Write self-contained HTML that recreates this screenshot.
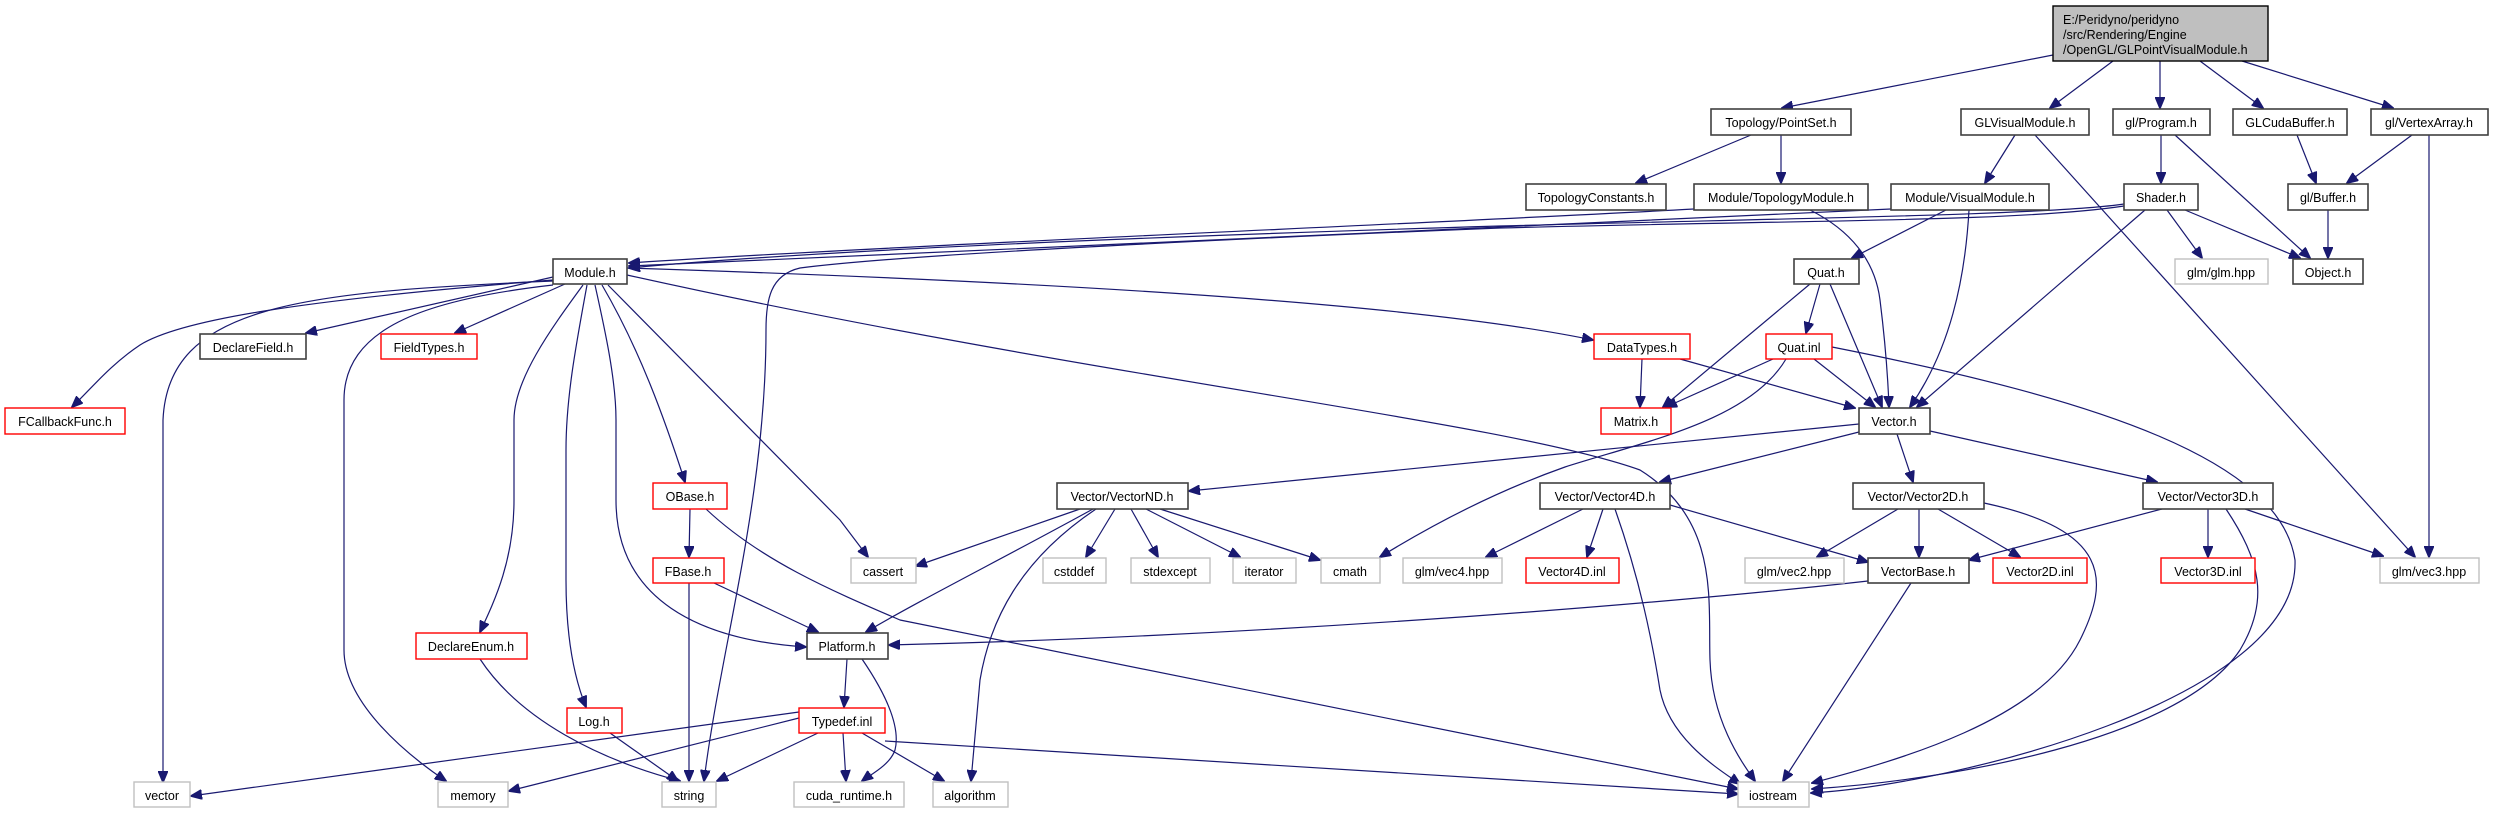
<!DOCTYPE html>
<html><head><meta charset="utf-8"><style>
html,body{margin:0;padding:0;background:#fff}
svg{display:block}
text{font-family:"Liberation Sans",Arial,sans-serif;font-size:12.5px;fill:#000;text-anchor:middle}
.b{fill:#fff;stroke:#404040;stroke-width:1.6}
.r{fill:#fff;stroke:#ff0000;stroke-width:1.4}
.g{fill:#fff;stroke:#c0c0c0;stroke-width:1.4}
path.e{fill:none;stroke:#191970;stroke-width:1.2}
</style></head><body>
<svg width="2493" height="813" viewBox="0 0 2493 813" xmlns="http://www.w3.org/2000/svg">
<defs><marker id="a" markerWidth="12" markerHeight="10" refX="11" refY="5" orient="auto" markerUnits="userSpaceOnUse"><path d="M0,0 L12,5 L0,10 z" fill="#191970" stroke="#191970"/></marker></defs>
<g marker-end="url(#a)">
<path class="e" d="M2053,55 L1782,108"/>
<path class="e" d="M2113,61 L2050,108"/>
<path class="e" d="M2160,61 L2160,108"/>
<path class="e" d="M2200,61 L2263,108"/>
<path class="e" d="M2242,61 L2393,108"/>
<path class="e" d="M1751,135 L1636,183"/>
<path class="e" d="M1781,135 L1781,183"/>
<path class="e" d="M1694,209 C1400,225 900,245 629,263"/>
<path class="e" d="M1891,209 C1500,230 900,250 629,266"/>
<path class="e" d="M2124,204 C2050,215 1800,218 1500,226 C1100,238 800,252 629,268"/>
<path class="e" d="M2124,206 C2020,222 1800,220 1500,228 C1200,240 900,255 800,268 C770,275 766,300 766,330 C766,500 720,650 704,781"/>
<path class="e" d="M1810,210 C1850,230 1875,260 1880,300 C1885,340 1888,380 1889,407"/>
<path class="e" d="M2015,135 L1985,183"/>
<path class="e" d="M2035,135 L2415,557"/>
<path class="e" d="M2161,135 L2161,183"/>
<path class="e" d="M2175,135 L2310,258"/>
<path class="e" d="M2297,135 L2316,183"/>
<path class="e" d="M2412,135 L2347,183"/>
<path class="e" d="M2429,135 L2429,557"/>
<path class="e" d="M1946,210 L1852,258"/>
<path class="e" d="M1969,210 C1965,280 1950,350 1910,407"/>
<path class="e" d="M2145,210 L1917,407"/>
<path class="e" d="M2167,210 L2202,258"/>
<path class="e" d="M2185,210 L2300,258"/>
<path class="e" d="M2328,210 L2328,258"/>
<path class="e" d="M1810,284 L1663,407"/>
<path class="e" d="M1820,284 L1806,333"/>
<path class="e" d="M1830,284 L1882,407"/>
<path class="e" d="M1642,359 L1640,407"/>
<path class="e" d="M1680,359 L1855,408"/>
<path class="e" d="M1773,359 L1666,407"/>
<path class="e" d="M1814,359 L1875,407"/>
<path class="e" d="M1786,359 C1750,420 1650,440 1565,467 C1500,490 1440,520 1380,557"/>
<path class="e" d="M1832,347 C2100,400 2280,460 2295,560 C2300,700 1950,785 1811,793"/>
<path class="e" d="M553,277 L306,333"/>
<path class="e" d="M565,284 L455,333"/>
<path class="e" d="M553,280 C300,300 180,320 140,345 C110,365 90,390 72,407"/>
<path class="e" d="M553,281 C300,292 168,305 163,420 L163,782"/>
<path class="e" d="M553,285 C420,300 344,330 344,400 L344,650 C344,700 400,750 446,781"/>
<path class="e" d="M583,285 C550,330 514,380 514,420 L514,500 C514,560 495,600 480,632"/>
<path class="e" d="M587,285 C575,350 566,400 566,450 L566,580 C566,640 575,680 586,707"/>
<path class="e" d="M595,285 C605,330 616,380 616,420 L616,500 C616,600 700,640 806,647"/>
<path class="e" d="M602,285 C640,350 665,420 685,482"/>
<path class="e" d="M608,285 L840,520 L868,557"/>
<path class="e" d="M627,275 C1100,380 1500,420 1640,470 C1720,520 1708,600 1710,660 C1712,720 1740,760 1755,781"/>
<path class="e" d="M627,268 C1000,280 1400,300 1593,340"/>
<path class="e" d="M690,509 L689,557"/>
<path class="e" d="M706,509 C760,560 830,590 900,620 L1738,789"/>
<path class="e" d="M689,583 L689,781"/>
<path class="e" d="M714,583 L818,632"/>
<path class="e" d="M480,659 C520,720 600,760 680,781"/>
<path class="e" d="M610,733 L678,781"/>
<path class="e" d="M847,659 L844,707"/>
<path class="e" d="M862,659 C890,700 900,730 895,750 C890,765 870,775 862,781"/>
<path class="e" d="M799,712 L191,796"/>
<path class="e" d="M799,718 L509,791"/>
<path class="e" d="M818,733 L717,781"/>
<path class="e" d="M843,733 L846,781"/>
<path class="e" d="M862,733 L944,781"/>
<path class="e" d="M885,741 L1738,794"/>
<path class="e" d="M1080,509 L916,566"/>
<path class="e" d="M1093,509 C1000,560 920,600 866,632"/>
<path class="e" d="M1096,509 C1020,560 990,620 980,680 L971,781"/>
<path class="e" d="M1115,509 L1086,557"/>
<path class="e" d="M1131,509 L1158,557"/>
<path class="e" d="M1146,509 L1240,557"/>
<path class="e" d="M1160,509 L1320,560"/>
<path class="e" d="M1859,424 L1189,491"/>
<path class="e" d="M1859,432 L1660,482"/>
<path class="e" d="M1897,434 L1913,482"/>
<path class="e" d="M1930,431 L2157,482"/>
<path class="e" d="M1583,509 L1486,557"/>
<path class="e" d="M1603,509 L1587,557"/>
<path class="e" d="M1670,505 L1868,562"/>
<path class="e" d="M1615,509 C1640,580 1652,640 1660,690 C1670,740 1720,770 1740,784"/>
<path class="e" d="M1898,509 L1817,557"/>
<path class="e" d="M1919,509 L1919,557"/>
<path class="e" d="M1938,509 L2020,557"/>
<path class="e" d="M1984,503 C2110,530 2110,580 2080,640 C2040,720 1900,760 1812,783"/>
<path class="e" d="M2162,509 L1969,560"/>
<path class="e" d="M2208,509 L2208,557"/>
<path class="e" d="M2245,509 L2383,556"/>
<path class="e" d="M2226,509 C2260,560 2270,600 2240,650 C2180,740 1950,780 1812,789"/>
<path class="e" d="M1868,581 C1700,600 1300,635 889,645"/>
<path class="e" d="M1911,583 L1783,781"/>
</g>
<rect x="2053" y="6" width="215" height="55" fill="#bfbfbf" stroke="#000" stroke-width="1.4"/>
<text x="2063" y="24" style="text-anchor:start">E:/Peridyno/peridyno</text>
<text x="2063" y="39" style="text-anchor:start">/src/Rendering/Engine</text>
<text x="2063" y="54" style="text-anchor:start">/OpenGL/GLPointVisualModule.h</text>
<g>
<rect class="b" x="1711" y="109" width="140" height="26"/><text x="1781" y="127">Topology/PointSet.h</text>
<rect class="b" x="1961" y="109" width="128" height="26"/><text x="2025" y="127">GLVisualModule.h</text>
<rect class="b" x="2113" y="109" width="97" height="26"/><text x="2161" y="127">gl/Program.h</text>
<rect class="b" x="2233" y="109" width="114" height="26"/><text x="2290" y="127">GLCudaBuffer.h</text>
<rect class="b" x="2371" y="109" width="117" height="26"/><text x="2429" y="127">gl/VertexArray.h</text>
<rect class="b" x="1526" y="184" width="140" height="26"/><text x="1596" y="202">TopologyConstants.h</text>
<rect class="b" x="1694" y="184" width="174" height="26"/><text x="1781" y="202">Module/TopologyModule.h</text>
<rect class="b" x="1891" y="184" width="158" height="26"/><text x="1970" y="202">Module/VisualModule.h</text>
<rect class="b" x="2124" y="184" width="74" height="26"/><text x="2161" y="202">Shader.h</text>
<rect class="b" x="2288" y="184" width="80" height="26"/><text x="2328" y="202">gl/Buffer.h</text>
<rect class="b" x="553" y="259" width="74" height="25"/><text x="590" y="277">Module.h</text>
<rect class="b" x="1794" y="259" width="65" height="25"/><text x="1826" y="277">Quat.h</text>
<rect class="g" x="2175" y="259" width="93" height="25"/><text x="2221" y="277">glm/glm.hpp</text>
<rect class="b" x="2293" y="259" width="70" height="25"/><text x="2328" y="277">Object.h</text>
<rect class="b" x="200" y="334" width="106" height="25"/><text x="253" y="352">DeclareField.h</text>
<rect class="r" x="381" y="334" width="96" height="25"/><text x="429" y="352">FieldTypes.h</text>
<rect class="r" x="1594" y="334" width="96" height="25"/><text x="1642" y="352">DataTypes.h</text>
<rect class="r" x="1766" y="334" width="66" height="25"/><text x="1799" y="352">Quat.inl</text>
<rect class="r" x="5" y="408" width="120" height="26"/><text x="65" y="426">FCallbackFunc.h</text>
<rect class="r" x="1601" y="408" width="70" height="26"/><text x="1636" y="426">Matrix.h</text>
<rect class="b" x="1859" y="408" width="71" height="26"/><text x="1894" y="426">Vector.h</text>
<rect class="r" x="653" y="483" width="74" height="26"/><text x="690" y="501">OBase.h</text>
<rect class="b" x="1057" y="483" width="131" height="26"/><text x="1122" y="501">Vector/VectorND.h</text>
<rect class="b" x="1540" y="483" width="130" height="26"/><text x="1605" y="501">Vector/Vector4D.h</text>
<rect class="b" x="1853" y="483" width="131" height="26"/><text x="1918" y="501">Vector/Vector2D.h</text>
<rect class="b" x="2143" y="483" width="130" height="26"/><text x="2208" y="501">Vector/Vector3D.h</text>
<rect class="r" x="653" y="558" width="71" height="25"/><text x="688" y="576">FBase.h</text>
<rect class="g" x="851" y="558" width="65" height="25"/><text x="883" y="576">cassert</text>
<rect class="g" x="1043" y="558" width="63" height="25"/><text x="1074" y="576">cstddef</text>
<rect class="g" x="1131" y="558" width="79" height="25"/><text x="1170" y="576">stdexcept</text>
<rect class="g" x="1233" y="558" width="63" height="25"/><text x="1264" y="576">iterator</text>
<rect class="g" x="1321" y="558" width="59" height="25"/><text x="1350" y="576">cmath</text>
<rect class="g" x="1403" y="558" width="99" height="25"/><text x="1452" y="576">glm/vec4.hpp</text>
<rect class="r" x="1526" y="558" width="93" height="25"/><text x="1572" y="576">Vector4D.inl</text>
<rect class="g" x="1745" y="558" width="99" height="25"/><text x="1794" y="576">glm/vec2.hpp</text>
<rect class="b" x="1868" y="558" width="101" height="25"/><text x="1918" y="576">VectorBase.h</text>
<rect class="r" x="1993" y="558" width="94" height="25"/><text x="2040" y="576">Vector2D.inl</text>
<rect class="r" x="2161" y="558" width="94" height="25"/><text x="2208" y="576">Vector3D.inl</text>
<rect class="g" x="2380" y="558" width="99" height="25"/><text x="2429" y="576">glm/vec3.hpp</text>
<rect class="r" x="416" y="633" width="111" height="26"/><text x="471" y="651">DeclareEnum.h</text>
<rect class="b" x="807" y="633" width="81" height="26"/><text x="847" y="651">Platform.h</text>
<rect class="r" x="567" y="708" width="55" height="25"/><text x="594" y="726">Log.h</text>
<rect class="r" x="799" y="708" width="86" height="25"/><text x="842" y="726">Typedef.inl</text>
<rect class="g" x="134" y="782" width="56" height="25"/><text x="162" y="800">vector</text>
<rect class="g" x="438" y="782" width="70" height="25"/><text x="473" y="800">memory</text>
<rect class="g" x="662" y="782" width="54" height="25"/><text x="689" y="800">string</text>
<rect class="g" x="794" y="782" width="110" height="25"/><text x="849" y="800">cuda_runtime.h</text>
<rect class="g" x="933" y="782" width="75" height="25"/><text x="970" y="800">algorithm</text>
<rect class="g" x="1738" y="782" width="71" height="25"/><text x="1773" y="800">iostream</text>
</g>
</svg>
</body></html>
